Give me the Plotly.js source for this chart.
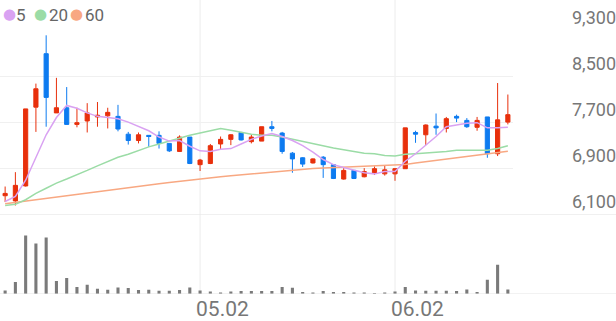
<!DOCTYPE html>
<html>
<head>
<meta charset="utf-8">
<script src="https://cdn.plot.ly/plotly-3.0.1.min.js"></script>
<style>html,body{margin:0;padding:0;background:#fff;}#chart{width:616px;height:321px;}</style>
</head>
<body>
<div id="chart"></div>
<script>
const dates = ['04.04','04.07','04.08','04.09','04.10','04.11','04.14','04.15','04.16','04.17',
  '04.18','04.21','04.22','04.23','04.24','04.25','04.28','04.29','04.30','05.02',
  '05.07','05.08','05.09','05.12','05.13','05.14','05.15','05.16','05.19','05.20',
  '05.21','05.22','05.23','05.26','05.27','05.28','05.29','05.30','06.02','06.04',
  '06.05','06.09','06.10','06.11','06.12','06.13','06.16','06.17','06.18','06.19'];
const openP  = [6430,6340,6600,7970,8900,7870,7960,7670,7730,7800,
  7820,7810,7500,7390,7480,7480,7340,7200,7450,6970,
  6990,7330,7410,7530,7370,7380,7630,7520,7170,7090,
  7000,7100,6970,6720,6870,6760,6820,6810,6810,6900,
  7530,7490,7640,7600,7810,7740,7620,7800,7160,7710];
const highP  = [6590,6840,7940,8380,9220,8480,8320,7960,8040,8060,
  7960,8010,7540,7530,7480,7550,7340,7480,7450,7070,
  7330,7460,7500,7540,7490,7630,7730,7540,7190,7100,
  7080,7120,6970,6910,6870,6910,6940,6950,6910,7610,
  7560,7670,7860,7800,7840,7780,7800,7800,8390,8190];
const lowP   = [6320,6260,6590,7540,7630,7870,7670,7620,7530,7630,
  7600,7550,7320,7340,7280,7250,7190,7190,6980,6860,
  6980,7230,7310,7390,7340,7380,7550,7160,6830,6930,
  6990,6740,6720,6710,6720,6750,6790,6780,6690,6900,
  7350,7310,7490,7530,7710,7610,7560,7090,7120,7670];
const closeP = [6470,6610,7940,8290,8140,7960,7670,7700,7870,7830,
  7880,7590,7390,7490,7460,7340,7210,7450,6990,7050,
  7300,7410,7490,7400,7450,7630,7600,7200,7070,6980,
  7070,6970,6730,6870,6730,6850,6900,6880,6900,7610,
  7500,7660,7610,7770,7780,7630,7740,7160,7750,7840];
const volume = [330,1170,5830,5030,5630,1270,1570,670,900,500,
  400,630,570,370,400,300,300,370,630,330,
  230,130,230,270,270,270,270,670,600,170,
  130,270,170,170,130,130,70,130,230,670,
  330,300,300,300,270,430,170,1400,2900,430];
const ma5  = [6330,6420,6700,7110,7490,7790,8000,7950,7870,7810,
  7790,7770,7710,7640,7560,7450,7380,7390,7290,7210,
  7200,7240,7250,7330,7410,7470,7510,7460,7390,7300,
  7190,7060,6970,6920,6870,6830,6810,6850,6850,7030,
  7160,7310,7460,7630,7660,7690,7700,7610,7610,7620];
const ma20 = [6260,6280,6360,6470,6560,6650,6720,6790,6870,6950,
  7030,7100,7150,7220,7280,7330,7380,7440,7480,7520,
  7560,7600,7570,7530,7500,7480,7480,7450,7410,7370,
  7330,7300,7260,7230,7200,7170,7160,7130,7120,7150,
  7160,7170,7180,7200,7220,7220,7220,7220,7250,7300];
const ma60 = [6290,6314,6337,6361,6384,6408,6431,6455,6478,6502,
  6525,6547,6570,6592,6615,6637,6660,6682,6705,6727,
  6744,6761,6778,6795,6812,6829,6846,6863,6880,6895,
  6904,6913,6921,6929,6937,6945,6953,6961,6969,6975,
  6998,7021,7044,7067,7090,7113,7136,7159,7181,7203];
const maNames  = ['5','20','60'];
const maColors = ['#d9a2f2','#9bdca6','#f8a882'];
const priceTicks = [6100,6900,7700,8500,9300];
const dateTicks  = ['05.02','06.02'];

const RED = '#e8300c', BLUE = '#0d7bf0';
const maSeries = [ma5, ma20, ma60];

const traces = [];
maSeries.slice().reverse().forEach((s, k) => {
  const i = maSeries.length - 1 - k;
  traces.push({type:'scatter', mode:'lines', x:dates, y:s, xaxis:'x', yaxis:'y',
    line:{color:maColors[i], width:1.5}, hoverinfo:'skip', showlegend:false, name:maNames[i]});
});
traces.push({
  type:'candlestick', x:dates, open:openP, high:highP, low:lowP, close:closeP,
  xaxis:'x', yaxis:'y', whiskerwidth:0,
  increasing:{line:{color:RED, width:1}, fillcolor:RED},
  decreasing:{line:{color:BLUE, width:1}, fillcolor:BLUE},
  showlegend:false
});
traces.push({type:'bar', x:dates, y:volume, xaxis:'x2', yaxis:'y2',
  marker:{color:'#7a7a7a'}, width:0.3, showlegend:false});

const H = 321, W = 616;
const xDom = [0, 513/W];
const pDom = [1 - 214.7/H, 1 - 30.7/H];
const vDom = [1 - 293.8/H, 1 - 223.8/H];

const shapes = [];
dateTicks.forEach(d => {
  const idx = dates.indexOf(d);
  shapes.push({type:'line', xref:'x', yref:'paper', x0:idx, x1:idx,
    y0:vDom[0], y1:1, line:{color:'#ececec', width:1}, layer:'below'});
});
shapes.push({type:'line', xref:'paper', yref:'y', x0:0, x1:1, y0:priceTicks[0], y1:priceTicks[0],
  line:{color:'#e6e6e6', width:1}, layer:'below'});
shapes.push({type:'line', xref:'paper', yref:'y2', x0:0, x1:1, y0:0, y1:0,
  line:{color:'#e6e6e6', width:1}, layer:'below'});

// legend: colored dot + label per moving average
const legendDotLeft  = [2, 33, 69];
const legendTextLeft = [15, 48, 84];
const legendY = 1 - 15/H;
const annotations = [];
maNames.forEach((n, i) => {
  annotations.push({xref:'paper', yref:'paper', x:legendDotLeft[i]/W, y:legendY + 0.6/H,
    xanchor:'left', yanchor:'middle', showarrow:false, text:'●', borderpad:0,
    font:{family:'DejaVu Sans', size:15, color:maColors[i]}});
  annotations.push({xref:'paper', yref:'paper', x:legendTextLeft[i]/W, y:legendY,
    xanchor:'left', yanchor:'middle', showarrow:false, text:n, borderpad:0,
    font:{size:17, color:'#666'}});
});

const layout = {
  width:W, height:H, margin:{l:0,r:0,t:0,b:0},
  paper_bgcolor:'#fff', plot_bgcolor:'#fff', showlegend:false,
  font:{family:'Roboto, sans-serif', color:'#777'},
  boxgap:0.42,
  xaxis:{type:'category', domain:xDom, range:[-0.5, dates.length-0.5], anchor:'y',
    showticklabels:false, showgrid:false, zeroline:false, showline:false, ticks:'',
    tickvals:dateTicks, rangeslider:{visible:false}, fixedrange:true},
  yaxis:{domain:pDom, range:[priceTicks[0], priceTicks[priceTicks.length-1]],
    tickvals:priceTicks, tickformat:',d', anchor:'free', position:1, side:'left',
    ticklabelposition:'outside top', gridcolor:'#f0f0f0', zeroline:false, showline:false,
    ticks:'', tickfont:{size:18, color:'#777'}},
  xaxis2:{type:'category', matches:'x', domain:xDom, anchor:'y2', tickvals:dateTicks, ticktext:dateTicks,
    ticklabelposition:'outside right', ticklabelstandoff:0, ticklabelshift:-4,
    showgrid:false, zeroline:false, showline:false, ticks:'',
    tickfont:{size:21, color:'#777'}, rangeslider:{visible:false}},
  yaxis2:{domain:vDom, range:[0,7000], showticklabels:false, showgrid:false, zeroline:false, showline:false},
  shapes:shapes,
  annotations:annotations
};

Plotly.newPlot('chart', traces, layout, {displayModeBar:false, staticPlot:true});
</script>
</body>
</html>
